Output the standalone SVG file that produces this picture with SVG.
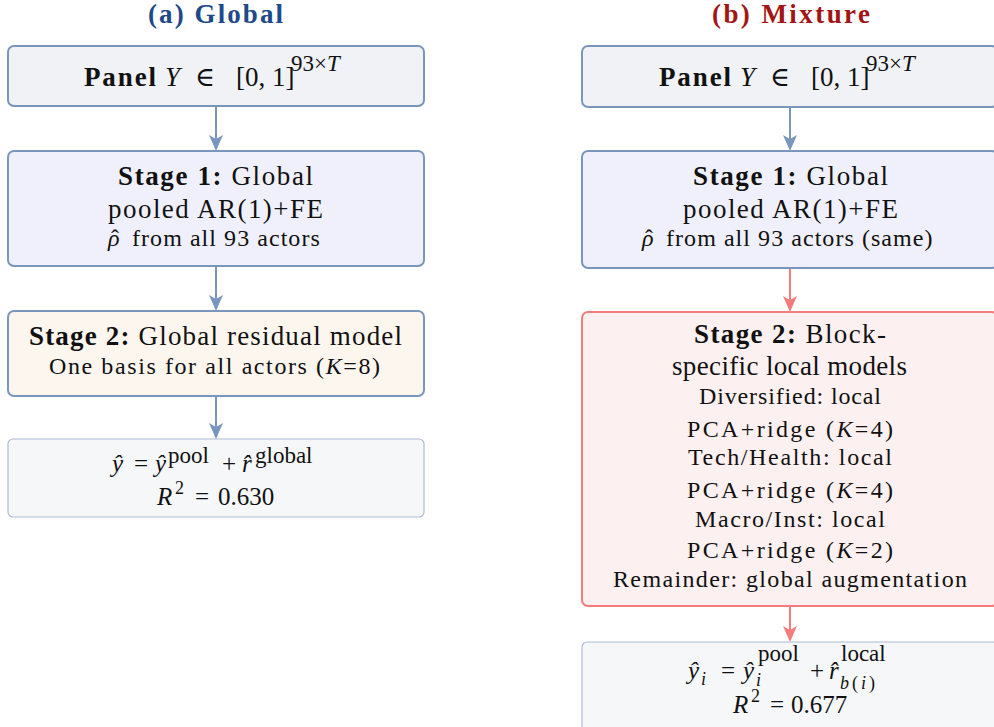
<svg xmlns="http://www.w3.org/2000/svg" width="994" height="727" viewBox="0 0 994 727">
  <style>
    text { font-family: "Liberation Serif", "DejaVu Serif", serif; fill: #111; }
    .n { font-size: 27px; }
    .s { font-size: 24px; }
    .f { font-size: 25px; }
    .sup { font-size: 23px; }
    .sub { font-size: 18px; }
    .b { font-weight: bold; }
    .i { font-style: italic; }
    .title { font-size: 27px; font-weight: bold; }
    .box { stroke-width: 2; }
    .panel { fill: #f0f2f6; stroke: #7b96bc; }
    .stage1 { fill: #eff0fb; stroke: #7b96bc; }
    .stage2g { fill: #fdf6ee; stroke: #7b96bc; }
    .stage2m { fill: #fdf0f0; stroke: #f47c7c; }
    .result { fill: #f6f7f9; stroke: #aebcd3; stroke-width: 1.2; }
    .edge { fill: none; stroke-width: 2; }
    .edge.blue { stroke: #7b96bc; }
    .edge.red { stroke: #f47c7c; }
  </style>
  <defs>
    <marker id="ahBlue" markerUnits="userSpaceOnUse" viewBox="0 0 16 14" refX="10" refY="7" markerWidth="16" markerHeight="14" orient="auto">
      <path d="M0,0 L16,7 L0,14 L4,7 Z" fill="#7b96bc"/>
    </marker>
    <marker id="ahRed" markerUnits="userSpaceOnUse" viewBox="0 0 16 14" refX="10" refY="7" markerWidth="16" markerHeight="14" orient="auto">
      <path d="M0,0 L16,7 L0,14 L4,7 Z" fill="#f47c7c"/>
    </marker>
  </defs>

  <!-- column headings -->
  <text class="title" x="148" y="23" textLength="135" style="fill:#1f4a8a">(a) Global</text>
  <text class="title" x="712" y="23" textLength="158" style="fill:#a31515">(b) Mixture</text>

  <!-- connectors -->
  <g id="connectors">
    <line class="edge blue" x1="216" y1="106" x2="216" y2="145" marker-end="url(#ahBlue)"/>
    <line class="edge blue" x1="216" y1="266" x2="216" y2="305" marker-end="url(#ahBlue)"/>
    <line class="edge blue" x1="216" y1="396" x2="216" y2="433" marker-end="url(#ahBlue)"/>
    <line class="edge blue" x1="790" y1="107" x2="790" y2="145" marker-end="url(#ahBlue)"/>
    <line class="edge red" x1="790" y1="268" x2="790" y2="306" marker-end="url(#ahRed)"/>
    <line class="edge red" x1="790" y1="606" x2="790" y2="636" marker-end="url(#ahRed)"/>
  </g>

  <!-- (a) Global pipeline -->
  <g id="a-panel">
    <rect class="box panel" x="8" y="46" width="416" height="60" rx="6"/>
    <text class="n" y="86"><tspan class="b" x="84" textLength="72">Panel</tspan><tspan class="i" x="165">Y</tspan><tspan x="195">∈</tspan><tspan x="236">[0, 1]</tspan></text>
    <text class="sup" x="291" y="71">93×<tspan class="i">T</tspan></text>
  </g>
  <g id="a-stage1">
    <rect class="box stage1" x="8" y="151" width="416" height="115" rx="6"/>
    <text class="n" x="118" y="185" textLength="195"><tspan class="b">Stage 1:</tspan> Global</text>
    <text class="n" x="108" y="218" textLength="215">pooled AR(1)+FE</text>
    <text class="s" y="246"><tspan class="i" x="108">ρ</tspan><tspan x="111">ˆ</tspan><tspan x="132" letter-spacing="1.05">from all 93 actors</tspan></text>
  </g>
  <g id="a-stage2">
    <rect class="box stage2g" x="8" y="311" width="416" height="85" rx="6"/>
    <text class="n" x="29" y="345" textLength="373"><tspan class="b">Stage 2:</tspan> Global residual model</text>
    <text class="s" x="49" y="374" textLength="331">One basis for all actors (<tspan class="i">K</tspan>=8)</text>
  </g>
  <g id="a-result">
    <rect class="result" x="8" y="439" width="416" height="78" rx="5"/>
    <text class="f" y="472"><tspan class="i" x="112">ŷ</tspan><tspan x="134">=</tspan><tspan class="i" x="155">ŷ</tspan><tspan x="222">+</tspan><tspan class="i" x="242">r̂</tspan></text>
    <text class="sup" x="168" y="463">pool</text>
    <text class="sup" x="255" y="463">global</text>
    <text class="f" y="505"><tspan class="i" x="157">R</tspan><tspan x="195">=</tspan><tspan x="218">0.630</tspan></text>
    <text class="sub" x="175" y="494">2</text>
  </g>

  <!-- (b) Mixture pipeline -->
  <g id="b-panel">
    <rect class="box panel" x="582" y="46" width="416" height="61" rx="6"/>
    <text class="n" y="86"><tspan class="b" x="659" textLength="72">Panel</tspan><tspan class="i" x="740">Y</tspan><tspan x="770">∈</tspan><tspan x="811">[0, 1]</tspan></text>
    <text class="sup" x="866" y="71">93×<tspan class="i">T</tspan></text>
  </g>
  <g id="b-stage1">
    <rect class="box stage1" x="582" y="151" width="416" height="117" rx="6"/>
    <text class="n" x="693" y="185" textLength="195"><tspan class="b">Stage 1:</tspan> Global</text>
    <text class="n" x="683" y="218" textLength="215">pooled AR(1)+FE</text>
    <text class="s" y="246"><tspan class="i" x="642">ρ</tspan><tspan x="645">ˆ</tspan><tspan x="666" letter-spacing="1.05">from all 93 actors (same)</tspan></text>
  </g>
  <g id="b-stage2">
    <rect class="box stage2m" x="582" y="312" width="416" height="294" rx="6"/>
    <text class="n" x="694" y="343" textLength="192"><tspan class="b">Stage 2:</tspan> Block-</text>
    <text class="n" x="672" y="375" textLength="235">specific local models</text>
    <text class="s" x="699" y="404" textLength="182">Diversified: local</text>
    <text class="s" x="687" y="437" textLength="206">PCA+ridge (<tspan class="i">K</tspan>=4)</text>
    <text class="s" x="688" y="465" textLength="204">Tech/Health: local</text>
    <text class="s" x="687" y="498" textLength="206">PCA+ridge (<tspan class="i">K</tspan>=4)</text>
    <text class="s" x="695" y="527" textLength="190">Macro/Inst: local</text>
    <text class="s" x="687" y="558" textLength="206">PCA+ridge (<tspan class="i">K</tspan>=2)</text>
    <text class="s" x="613" y="587" textLength="354">Remainder: global augmentation</text>
  </g>
  <g id="b-result">
    <rect class="result" x="582" y="642" width="416" height="95" rx="5"/>
    <text class="f" y="679"><tspan class="i" x="688">ŷ</tspan><tspan x="721">=</tspan><tspan class="i" x="743">ŷ</tspan><tspan x="810">+</tspan><tspan class="i" x="829">r̂</tspan></text>
    <text class="sub i" x="701" y="685">i</text>
    <text class="sup" x="758" y="661">pool</text>
    <text class="sub i" x="756" y="686">i</text>
    <text class="sup" x="841" y="661">local</text>
    <text class="sub" x="840" y="689" textLength="35"><tspan class="i">b</tspan>(<tspan class="i">i</tspan>)</text>
    <text class="f" y="713"><tspan class="i" x="733">R</tspan><tspan x="770">=</tspan><tspan x="791">0.677</tspan></text>
    <text class="sub" x="751" y="702">2</text>
  </g>
</svg>
